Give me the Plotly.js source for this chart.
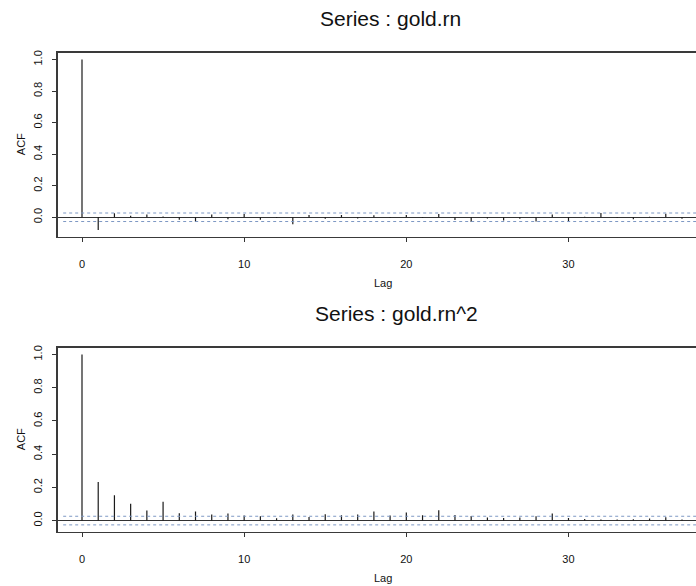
<!DOCTYPE html>
<html>
<head>
<meta charset="utf-8">
<script src="https://cdn.plot.ly/plotly-3.0.1.min.js"></script>
<style>
  html, body { margin: 0; padding: 0; background: #ffffff; overflow: hidden; width: 696px; height: 586px; }
  #chart { width: 720px; height: 586px; }
</style>
</head>
<body>
<div id="chart"></div>
<script>
// ---- data ----
const lags = [0, 1, 2, 3, 4, 5, 6, 7, 8, 9, 10, 11, 12, 13, 14, 15, 16, 17, 18, 19,
              20, 21, 22, 23, 24, 25, 26, 27, 28, 29, 30, 31, 32, 33, 34, 35, 36, 37];

const acfGoldRn = [1.0, -0.08, 0.025, 0.01, 0.017, 0.005, -0.015, -0.028, 0.017, -0.013,
                   0.02, -0.015, -0.005, -0.044, 0.015, -0.01, 0.015, -0.008, 0.012, -0.005,
                   0.015, -0.005, 0.02, -0.017, -0.03, -0.008, -0.02, -0.01, -0.027, 0.017,
                   -0.023, 0.003, 0.027, -0.005, -0.013, 0.003, 0.023, -0.01];

const acfGoldRn2 = [1.0, 0.232, 0.152, 0.102, 0.06, 0.114, 0.044, 0.054, 0.036, 0.042,
                    0.03, 0.026, 0.014, 0.036, 0.022, 0.038, 0.032, 0.036, 0.054, 0.03,
                    0.048, 0.032, 0.062, 0.034, 0.028, 0.018, 0.016, 0.018, 0.026, 0.042,
                    0.016, 0.01, 0.006, 0.006, 0.008, 0.012, 0.02, 0.006];

const ciGoldRn = 0.027;
const ciGoldRn2 = 0.026;

const titles = ["Series : gold.rn", "Series : gold.rn^2"];
const xLabel = "Lag";
const yLabel = "ACF";
const xTicks = [0, 10, 20, 30];
const yTicks = [0.0, 0.2, 0.4, 0.6, 0.8, 1.0];

// ---- build spike traces ----
function spikes(vals, xa, ya) {
  const xs = [], ys = [];
  for (let i = 0; i < lags.length; i++) {
    xs.push(lags[i], lags[i], null);
    ys.push(0, vals[i], null);
  }
  return {
    type: 'scatter', mode: 'lines', x: xs, y: ys, xaxis: xa, yaxis: ya,
    line: { color: '#1a1a1a', width: 1.2 }, hoverinfo: 'skip', showlegend: false
  };
}

const FONT = 'Liberation Sans, Arial, Helvetica, sans-serif';
const W = 720, H = 586;

function xaxisDef(anchor) {
  return {
    anchor: anchor, domain: [58 / W, 706 / W],
    range: [-1.48, 38.48], showgrid: false, zeroline: false,
    showline: true, mirror: true, linecolor: '#3a3a3a', linewidth: 1.6,
    ticks: 'outside', ticklen: 4, tickwidth: 1, tickcolor: '#333',
    tickvals: xTicks, ticklabelstandoff: 12,
    tickfont: { family: FONT, size: 11, color: '#111' }
  };
}
function yaxisDef(anchor, range, topPx, bottomPx) {
  return {
    anchor: anchor, domain: [1 - bottomPx / H, 1 - topPx / H],
    range: range, showgrid: false,
    zeroline: true, zerolinecolor: '#333', zerolinewidth: 1.3,
    showline: true, mirror: true, linecolor: '#3a3a3a', linewidth: 1.6,
    ticks: 'outside', ticklen: 4, tickwidth: 1, tickcolor: '#333',
    tickvals: yTicks, tickformat: '.1f', tickangle: -90, ticklabelstandoff: 6,
    tickfont: { family: FONT, size: 11, color: '#111' }
  };
}

function ciShapes(ci, xref, yref) {
  return [ci, -ci].map(v => ({
    type: 'line', xref: xref + ' domain', yref: yref,
    x0: 0.008, x1: 1, y0: v, y1: v,
    line: { color: '#7d98c4', width: 1, dash: 'dot' }
  }));
}

function ann(text, px, py, size, angle) {
  return {
    text: text, xref: 'paper', yref: 'paper', x: px / W, y: 1 - py / H,
    xanchor: 'center', yanchor: 'middle', showarrow: false,
    textangle: angle || 0,
    font: { family: FONT, size: size, color: '#111' }
  };
}

const data = [spikes(acfGoldRn, 'x', 'y'), spikes(acfGoldRn2, 'x2', 'y2')];

const layout = {
  width: W, height: H,
  margin: { l: 0, r: 0, t: 0, b: 0 },
  paper_bgcolor: '#ffffff', plot_bgcolor: '#ffffff',
  showlegend: false,
  xaxis: xaxisDef('y'),
  yaxis: yaxisDef('x', [-0.1232, 1.0432], 52.7, 236.7),
  xaxis2: xaxisDef('y2'),
  yaxis2: yaxisDef('x2', [-0.067, 1.041], 347.7, 531.7),
  shapes: [].concat(ciShapes(ciGoldRn, 'x', 'y'), ciShapes(ciGoldRn2, 'x2', 'y2')),
  annotations: [
    ann(titles[0], 391, 18, 21),
    ann(titles[1], 396, 313, 21),
    ann(xLabel, 383, 283, 11),
    ann(xLabel, 383, 578, 11),
    ann(yLabel, 20.5, 144.7, 11, -90),
    ann(yLabel, 20.5, 439.7, 11, -90)
  ]
};

Plotly.newPlot('chart', data, layout, { staticPlot: true, displayModeBar: false });
</script>
</body>
</html>
